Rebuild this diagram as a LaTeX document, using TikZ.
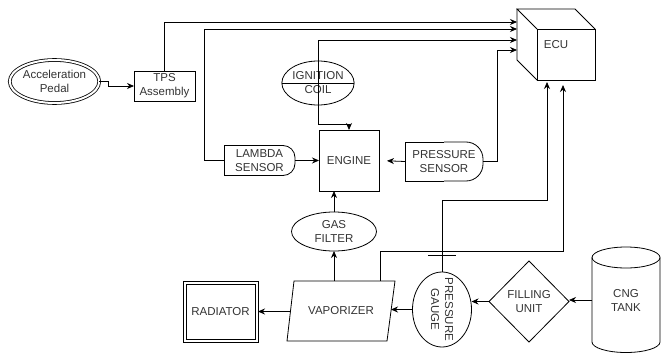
\documentclass[tikz,border=0pt]{standalone}
\usepackage{fontspec}
\setmainfont{Liberation Sans}
\usetikzlibrary{shapes.geometric,arrows.meta,calc}
\definecolor{txt}{HTML}{333333}
\begin{document}
\begin{tikzpicture}[x=1pt,y=-1pt,
  every node/.style={font=\fontsize{11.5}{14}\selectfont, text=txt, align=center, inner sep=0pt, outer sep=0pt},
  lw/.style={line width=0.8pt},
  arr/.style={lw, -{Stealth[length=7pt,width=6pt]}},
  both/.style={lw, {Stealth[length=7pt,width=6pt]}-{Stealth[length=7pt,width=6pt]}},
  boxn/.style={draw, lw, rectangle},
  ell/.style={draw, lw, ellipse}]
\useasboundingbox (0,0) rectangle (661,353);

% nodes
\node[ell, double, double distance=2pt, minimum width=87, minimum height=43] (ped) at (54.5,81.5) {Acceleration\\Pedal};
\node[boxn, minimum width=61, minimum height=30] (tps) at (164.5,86) {TPS\\Assembly};
\node[minimum width=78, minimum height=71] (ecu) at (556,44.5) {ECU};
\node[ell, minimum width=64, minimum height=44] (ign) at (318,83) {IGNITION\\COIL};
\node[boxn, minimum width=60, minimum height=61] (eng) at (349,160.5) {ENGINE};
\node[minimum width=71, minimum height=30] (lam) at (259.5,160.5) {LAMBDA\\SENSOR};
\node[minimum width=78, minimum height=39] (ps) at (444,161.5) {PRESSURE\\SENSOR};
\node[ell, minimum width=85, minimum height=39] (gf) at (334,231.5) {GAS\\FILTER};
\node[minimum width=108, minimum height=60] (vap) at (341,311) {VAPORIZER};
\node[boxn, minimum width=75, minimum height=61] (rad) at (220.5,311.5) {RADIATOR};
\node[ell, minimum width=59, minimum height=75] (pg) at (442,309.5) {};
\node[rotate=-90] at (pg.center) {PRESSURE\\GAUGE};
\node[draw, lw, diamond, aspect=1, minimum width=80, minimum height=81] (fu) at (529,301.5) {FILLING\\UNIT};
\node[minimum width=68, minimum height=106] (tank) at (626,300) {CNG\\TANK};

% radiator inner frame
\draw[lw] ($(rad.north west)+(3,3)$) rectangle ($(rad.south east)+(-3,-3)$);

% ECU cube
\draw[lw] (537,29) rectangle (595,80);
\draw[lw] (537,29) -- (517,9) -- (575,9) -- (595,29);
\draw[lw] (517,9) -- (517,60) -- (537,80);

% ignition split line
\draw[lw] (ign.west) -- (ign.east);

% lambda / pressure sensor delay shapes
\draw[lw] (lam.north) -- (lam.north west) -- (lam.south west) -- (lam.south);
\draw[lw, rounded corners=12pt] (lam.north) -- (lam.north east) -- (lam.south east) -- (lam.south);
\draw[lw] (ps.north) -- (ps.north west) -- (ps.south west) -- (ps.south);
\draw[lw, rounded corners=17pt] (ps.north) -- (ps.north east) -- (ps.south east) -- (ps.south);

% vaporizer parallelogram
\draw[lw] ($(vap.north west)+(7,0)$) -- (vap.north east) -- ($(vap.south east)+(-8,0)$) -- (vap.south west) -- cycle;

% CNG tank cylinder
\draw[lw] (626,257.5) ellipse [x radius=34, y radius=10.5];
\draw[lw] (592,257.5) -- (592,342) arc[start angle=180, end angle=0, x radius=34, y radius=10.5] -- (660,257.5);

% coordinates
\coordinate (in1) at (517,22);
\coordinate (in2) at (517,29);
\coordinate (in3) at (517,40);
\coordinate (in4) at (517,50);
\coordinate (eb1) at (547,82);
\coordinate (eb2) at (563,85);
\coordinate (vtop) at (380,281);
\coordinate (vapin) at (391,309.5);
\coordinate (vapout) at (290,311.5);

% connectors
\draw[arr] (ped.east) -- ++(9,0) |- (tps.west);
\draw[arr] (tps.north) |- (in1);
\draw[arr] (lam.west) -- ++(-20,0) |- (in2);
\draw[both] (eng.north) -- ++(0,-6) -| (ign |- in3) -- (in3);
\draw[arr] (ps.east) -- ++(14,0) |- (in4);
\draw[arr] (lam.east) -- (eng.west);
\draw[arr, shorten >=8pt] (ps.west) -- (eng.east);
\draw[arr] (gf.north) -- (gf.north |- eng.south);
\draw[arr] (gf.south |- vap.north) -- (gf.south);
\draw[arr] (vapout) -- (rad.east);
\draw[arr] (pg.west) -- (vapin);
\draw[arr] (fu.west) -- (fu.west -| pg.east);
\draw[arr] (tank.west) -- (tank.west -| fu.east);
\draw[arr] (pg.north) -- ++(0,-72) -| (eb1);
\draw[lw] ($(pg.north)+(-14,-17)$) -- ++(28,0);
\draw[arr] (vtop) -- ++(0,-30) -| (eb2);
\end{tikzpicture}
\end{document}
